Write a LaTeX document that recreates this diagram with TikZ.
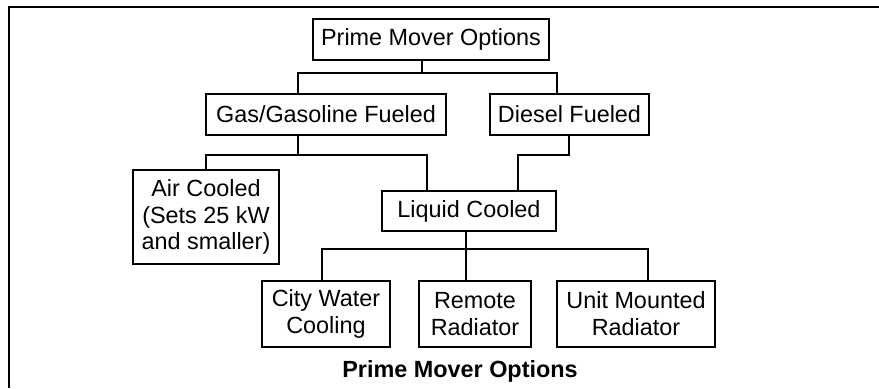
\documentclass[tikz,border=0pt]{standalone}
\usepackage{fontspec}
\setmainfont{Liberation Sans}
\usepackage{tikz}
\usetikzlibrary{positioning, calc}

\tikzset{
  optbox/.style={draw, line width=1pt, rectangle, inner sep=0pt, align=center,
    font=\fontsize{11.7pt}{13.4pt}\selectfont},
  link/.style={line width=1pt}
}

\begin{document}
\begin{tikzpicture}[x=0.5pt, y=-0.5pt]
    \useasboundingbox (0,0) rectangle (879,388);

    % Frame
    \draw[line width=1pt] (9,388) -- (9,6.5) -- (879,6.5);

    % Boxes
    \node[optbox, minimum width=118pt, minimum height=20.5pt] (pmo) at (431,39.5) {Prime Mover Options};
    \node[optbox, minimum width=120pt, minimum height=20.5pt] (gas) at (326,114.5) {Gas/Gasoline Fueled};
    \node[optbox, minimum width=79.5pt, minimum height=20.5pt] (diesel) at (569.5,114.5) {Diesel Fueled};
    \node[optbox, minimum width=73pt, minimum height=47pt] (air) at (206,217) {Air Cooled\\(Sets 25 kW\\and smaller)};
    \node[optbox, minimum width=87pt, minimum height=20pt] (liquid) at (469,211) {Liquid Cooled};
    \node[optbox, minimum width=64pt, minimum height=33pt] (city) at (326,314) {City Water\\Cooling};
    \node[optbox, minimum width=56pt, minimum height=33pt] (remote) at (475,314) {Remote\\Radiator};
    \node[optbox, minimum width=79pt, minimum height=33pt] (unit) at (636,314) {Unit Mounted\\Radiator};

    % Caption
    \node[font=\fontsize{11.7pt}{13.4pt}\selectfont\bfseries] (caption) at (460,371) {Prime Mover Options};

    % Junctions
    \coordinate (j1) at (422,73);
    \coordinate (gA) at (298,73);
    \coordinate (gB) at (557,73);
    \coordinate (gC) at (298,155);
    \coordinate (aR) at (427,155);
    \coordinate (dC) at (569,155);
    \coordinate (dL) at (518,155);
    \coordinate (lC) at (466,249);
    \coordinate (cL) at (322,249);
    \coordinate (cR) at (648,249);

    % Top level
    \draw[link] (pmo.south -| j1) -- (j1);
    \draw[link] (gas.north -| gA) -- (gA) -- (gB) -- (diesel.north -| gB);

    % Fuel to cooling
    \draw[link] (gas.south -| gC) -- (gC);
    \draw[link] (air.north) -- (air.north |- gC) -- (aR) -- (liquid.north -| aR);
    \draw[link] (diesel.south -| dC) -- (dC) -- (dL) -- (liquid.north -| dL);

    % Liquid cooled options
    \draw[link] (liquid.south -| lC) -- (lC);
    \draw[link] (city.north -| cL) -- (cL) -- (cR) -- (unit.north -| cR);
    \draw[link] (remote.north -| lC) -- (lC);
\end{tikzpicture}
\end{document}
